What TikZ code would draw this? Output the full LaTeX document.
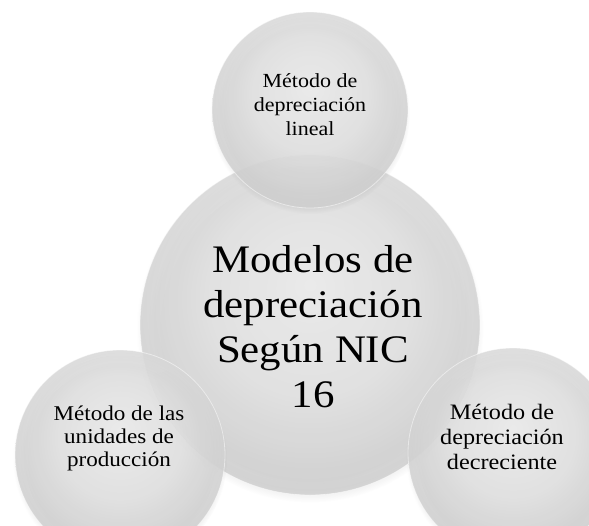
\documentclass[tikz,border=0pt]{standalone}
\usepackage{fontspec}
\setmainfont{Liberation Serif}[FakeStretch=1.1]
\usetikzlibrary{shadows}
\pgfdeclareradialshading{bolagris}{\pgfpoint{0bp}{6bp}}{color(0bp)=(black!7); color(14bp)=(black!11); color(24bp)=(black!17); color(31bp)=(black!21); color(50bp)=(black!21)}
\begin{document}
\begin{tikzpicture}[x=1pt,y=-1pt,
    bola/.style={circle,shading=bolagris,draw=white,draw opacity=0.5,line width=0.8pt,fill opacity=0.85,
      circular drop shadow={shadow xshift=0pt,shadow yshift=-4pt,shadow scale=1.02,opacity=0.3}},
    texto/.style={align=center,inner sep=0pt}]
  \useasboundingbox (0,0) rectangle (589,525);
  \node[bola,minimum size=340pt] (centro) at (310,325) {};
  \node[bola,minimum size=196pt] (lineal) at (310,110) {};
  \node[bola,minimum size=210pt] (unidades) at (120,455) {};
  \node[bola,minimum size=210pt] (decreciente) at (513,453) {};
  \node[texto,font=\fontsize{39}{45}\selectfont] (tcentro) at (313,327) {Modelos de\\depreciación\\Según NIC\\16};
  \node[texto,font=\fontsize{20}{24}\selectfont] (tlineal) at (310,105) {Método de\\depreciación\\lineal};
  \node[texto,font=\fontsize{21}{23}\selectfont] (tunidades) at (119,438) {Método de las\\unidades de\\producción};
  \node[texto,font=\fontsize{22}{25}\selectfont] (tdecreciente) at (502,437) {Método de\\depreciación\\decreciente};
\end{tikzpicture}
\end{document}
